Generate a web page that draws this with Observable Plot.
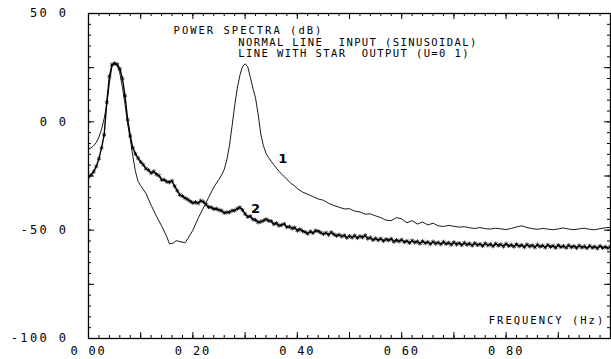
<!DOCTYPE html>
<html><head><meta charset="utf-8">
<script src="https://cdn.jsdelivr.net/npm/d3@7"></script>
<script src="https://cdn.jsdelivr.net/npm/@observablehq/plot@0.6"></script>
<style>
html,body{margin:0;padding:0;background:#fff;}
#chart svg{display:block;}
#chart text{white-space:pre;}
</style></head><body><div id="chart"></div>
<script>
// Series 1: input (normal line)
const inputFreq = [0,0.005,0.01,0.015,0.02,0.025,0.03,0.035,0.04,0.045,0.05,0.055,0.06,0.065,0.07,0.075,0.08,0.085,0.09,0.095,0.1,0.11,0.12,0.13,0.14,0.15,0.155,0.162,0.168,0.175,0.185,0.19,0.195,0.2,0.21,0.22,0.23,0.24,0.25,0.255,0.26,0.265,0.27,0.275,0.28,0.285,0.29,0.295,0.3,0.305,0.31,0.315,0.32,0.325,0.33,0.335,0.34,0.345,0.35,0.355,0.36,0.365,0.37,0.375,0.38,0.385,0.39,0.395,0.4,0.41,0.42,0.43,0.44,0.45,0.46,0.47,0.48,0.49,0.5,0.51,0.52,0.53,0.54,0.55,0.56,0.57,0.58,0.59,0.6,0.61,0.62,0.63,0.64,0.65,0.66,0.67,0.68,0.69,0.7,0.71,0.72,0.73,0.74,0.75,0.76,0.77,0.78,0.79,0.8,0.81,0.82,0.83,0.84,0.85,0.86,0.87,0.88,0.89,0.9,0.91,0.92,0.93,0.94,0.95,0.96,0.97,0.98,0.99,1.0];
const inputDb = [-12.5,-12,-11,-9.5,-7,-3.5,1.5,8,18,25.5,27,26,22.5,16,8,-1,-8,-16,-23,-27.5,-29.5,-33,-38.5,-43.5,-48,-53,-56.3,-56,-54.8,-55.3,-55.8,-54,-52,-50,-44.5,-39.8,-35,-30.2,-26.5,-24.5,-22,-17.5,-11,-2,7.5,15.5,21.5,25.5,26.8,25.5,20.6,15.5,11,3.5,-5.5,-11,-14.5,-16.5,-18.2,-19.8,-21.4,-22.8,-24.2,-25.3,-26.4,-27.8,-28.8,-29.5,-30.8,-32.4,-33.4,-34.5,-35.6,-36.2,-37.6,-38.6,-39.4,-40.2,-40.1,-41.2,-41.6,-42.6,-42.5,-43.4,-44.2,-45.4,-45.6,-44.2,-44.8,-46.6,-45.6,-47.2,-46.2,-47.6,-46.8,-48,-48.3,-47.8,-48.2,-48.6,-48.4,-48.9,-49.2,-48.8,-49.3,-49.5,-49.1,-49.4,-49.7,-49.2,-48.5,-48,-48.8,-49.3,-49.6,-49.2,-49.5,-49.8,-49.4,-49,-49.5,-49.8,-49.4,-49.1,-49.6,-49.8,-49.3,-48.9,-48.7];

// Series 2: output (line with star)
const outputFreq = [0,0.005,0.01,0.015,0.02,0.025,0.03,0.035,0.04,0.045,0.05,0.055,0.06,0.065,0.07,0.075,0.08,0.085,0.09,0.095,
0.1,0.105,0.11,0.115,0.12,0.125,0.13,0.135,0.14,0.145,0.15,0.155,0.16,0.165,0.17,0.175,0.18,0.185,0.19,0.195,
0.2,0.205,0.21,0.215,0.22,0.225,0.23,0.235,0.24,0.245,0.25,0.255,0.26,0.265,0.27,0.275,0.28,0.285,0.29,0.295,
0.3,0.305,0.31,0.315,0.32,0.325,0.33,0.335,0.34,0.345,0.35,0.355,0.36,0.365,0.37,0.375,0.38,0.385,0.39,0.395,
0.4,0.405,0.41,0.415,0.42,0.425,0.43,0.435,0.44,0.445,0.45,0.455,0.46,0.465,0.47,0.475,0.48,0.485,0.49,0.495,
0.5,0.505,0.51,0.515,0.52,0.525,0.53,0.535,0.54,0.545,0.55,0.555,0.56,0.565,0.57,0.575,0.58,0.585,0.59,0.595,
0.6,0.605,0.61,0.615,0.62,0.625,0.63,0.635,0.64,0.645,0.65,0.655,0.66,0.665,0.67,0.675,0.68,0.685,0.69,0.695,
0.7,0.705,0.71,0.715,0.72,0.725,0.73,0.735,0.74,0.745,0.75,0.755,0.76,0.765,0.77,0.775,0.78,0.785,0.79,0.795,
0.8,0.805,0.81,0.815,0.82,0.825,0.83,0.835,0.84,0.845,0.85,0.855,0.86,0.865,0.87,0.875,0.88,0.885,0.89,0.895,
0.9,0.905,0.91,0.915,0.92,0.925,0.93,0.935,0.94,0.945,0.95,0.955,0.96,0.965,0.97,0.975,0.98,0.985,0.99,0.995,1.0];
const outputDb = [-25.6,-24.5,-23,-20.5,-17,-12,-6,9,21,26.4,27,26.5,24.5,20,12,1,-6.5,-12,-14.8,-16.8,
-18.5,-19.8,-21.6,-22.3,-23.6,-22.9,-24.2,-24.8,-26.7,-26.8,-27.6,-27.9,-27.3,-29.7,-31.8,-33.7,-34.3,-35.2,-35.8,-36.7,
-37.4,-37.1,-37.6,-36.4,-36.9,-38.1,-39.3,-39.5,-40.2,-40.1,-40.7,-41,-42,-41.8,-41.7,-41,-40.9,-40.1,-39.5,-40.7,
-42.5,-43.8,-43.6,-45,-45.3,-46.4,-46.1,-45.6,-45,-45.6,-45.9,-47.2,-46.8,-47.9,-47.6,-47.1,-48.6,-48.4,-49.2,-48.8,
-50.2,-49.6,-50.4,-50.9,-51.6,-50.6,-51.3,-50.2,-50.5,-51.1,-51.8,-51.2,-52.1,-51,-51.9,-52.6,-52.1,-52.9,-52.4,-53.5,
-52.7,-53.4,-52.5,-53.6,-52.8,-53.3,-52.4,-53.9,-53.4,-54.5,-53.8,-54.6,-53.9,-55,-54.2,-54.7,-54,-55.3,-54.6,-55.2,
-54.4,-55.5,-55,-55.9,-54.8,-55.7,-55.2,-56.2,-55.1,-56,-55.5,-56.4,-55.3,-56.2,-55.7,-56.5,-55.4,-56.3,-55.8,-56.7,
-55.6,-56.6,-56,-56.9,-55.8,-56.7,-56.2,-57.1,-56,-56.9,-56.4,-57.3,-56.1,-57,-56.5,-57.4,-56.2,-57.1,-56.6,-57.5,
-56.3,-57.3,-56.8,-57.6,-56.5,-57.4,-56.9,-57.8,-56.6,-57.5,-57,-57.9,-56.7,-57.6,-57.1,-58,-56.8,-57.7,-57.2,-58.1,
-56.9,-57.8,-57.3,-58.1,-57,-57.9,-57.4,-58.2,-57.1,-58,-57.5,-58.3,-57.2,-58.1,-57.6,-58.4,-57.3,-58.2,-57.7,-58.3,-57.5];

// Axis ticks and labels
const xTickValues = [0, 0.2, 0.4, 0.6, 0.8];
const xTickLabels = ["0 00", "0 20", "0 40", "0 60", "0 80"];
const yTickValues = [50, 0, -50, -100];
const yTickLabels = ["50 0", "0 0", "-50 0", "-100 0"];
const xMinorTicks = d3.range(0, 1.0001, 0.02);
const xMajorTicks = d3.range(0, 1.0001, 0.1);
const yMinorTicks = d3.range(-100, 50.001, 5);
const yMajorTicks = d3.range(-100, 50.001, 25);

// Annotations
const titleText = "POWER SPECTRA (dB)";
const legendLines = ["NORMAL LINE  INPUT (SINUSOIDAL)", "LINE WITH STAR  OUTPUT (U=0 1)"];
const legendY = [36.6, 31.5];
const xAxisTitle = "FREQUENCY (Hz)";
const curveLabels = ["1", "2"];
const curveLabelX = [0.372, 0.32];
const curveLabelY = [-17, -40];

const inputData = inputFreq.map((f, i) => ({f, db: inputDb[i]}));
const outputData = outputFreq.map((f, i) => ({f, db: outputDb[i]}));
const legendData = legendLines.map((t, i) => ({t, y: legendY[i]}));
const curveData = curveLabels.map((t, i) => ({t, x: curveLabelX[i], y: curveLabelY[i]}));

const xs = 3 / 522, ys = 3 / 2.1667; // 3px tick length in data units

const chart = Plot.plot({
  width: 611, height: 359,
  marginLeft: 88, marginRight: 1, marginTop: 13, marginBottom: 21,
  style: {fontFamily: "'DejaVu Sans Mono', monospace", fontSize: "11px", letterSpacing: "1.4px", background: "#fff", color: "#000"},
  x: {domain: [0, 1], label: null},
  y: {domain: [-100, 50], label: null},
  marks: [
    Plot.frame({stroke: "#000", strokeWidth: 1.3}),
    // inward tick marks
    Plot.ruleX(xMinorTicks, {x: d => d, y1: -100, y2: -100 + ys, stroke: "#000"}),
    Plot.ruleX(xMinorTicks, {x: d => d, y1: 50, y2: 50 - ys, stroke: "#000"}),
    Plot.ruleX(xMajorTicks, {x: d => d, y1: -100, y2: -100 + 2 * ys, stroke: "#000"}),
    Plot.ruleX(xMajorTicks, {x: d => d, y1: 50, y2: 50 - 2 * ys, stroke: "#000"}),
    Plot.ruleY(yMinorTicks, {y: d => d, x1: 0, x2: xs, stroke: "#000"}),
    Plot.ruleY(yMinorTicks, {y: d => d, x1: 1, x2: 1 - xs, stroke: "#000"}),
    Plot.ruleY(yMajorTicks, {y: d => d, x1: 0, x2: 2 * xs, stroke: "#000"}),
    Plot.ruleY(yMajorTicks, {y: d => d, x1: 1, x2: 1 - 2 * xs, stroke: "#000"}),
    Plot.axisX({ticks: xTickValues, tickFormat: d => xTickLabels[xTickValues.indexOf(d)], tickSize: 0, tickPadding: 8, fontSize: 12, label: null}),
    Plot.axisY({ticks: yTickValues, tickFormat: d => yTickLabels[yTickValues.indexOf(d)], tickSize: 0, tickPadding: 20, fontSize: 12, label: null}),
    // curves
    Plot.line(inputData, {x: "f", y: "db", stroke: "#000", strokeWidth: 0.9, clip: true}),
    Plot.line(outputData, {x: "f", y: "db", stroke: "#000", strokeWidth: 1.4, clip: true}),
    Plot.dot(outputData, {x: "f", y: "db", symbol: "asterisk", r: 2, stroke: "#000", strokeWidth: 0.8, clip: true}),
    // annotations
    Plot.text([titleText], {x: 0.163, y: 42, text: d => d, textAnchor: "start", fill: "#000", fontSize: 10.5}),
    Plot.text(legendData, {x: 0.287, y: "y", text: "t", textAnchor: "start", fill: "#000", fontSize: 10.5}),
    Plot.text([xAxisTitle], {x: 0.99, y: -91.8, text: d => d, textAnchor: "end", fill: "#000", fontSize: 10.5}),
    Plot.text(curveData, {x: "x", y: "y", text: "t", fill: "#000", fontSize: 13, fontWeight: "bold", fontFamily: "'DejaVu Sans', sans-serif"})
  ]
});
document.getElementById("chart").appendChild(chart);

// per-text letter spacing to mimic the plotter lettering widths
const spacing = new Map([
  ...yTickLabels.map(t => [t, "2.4px"]),
  ...xTickLabels.map(t => [t, "1.8px"]),
  [titleText, "2px"],
  [xAxisTitle, "2px"],
  ...curveLabels.map(t => [t, "0px"])
]);
chart.querySelectorAll("text").forEach(el => {
  const s = spacing.get(el.textContent);
  if (s) el.style.letterSpacing = s;
});
</script></body></html>
